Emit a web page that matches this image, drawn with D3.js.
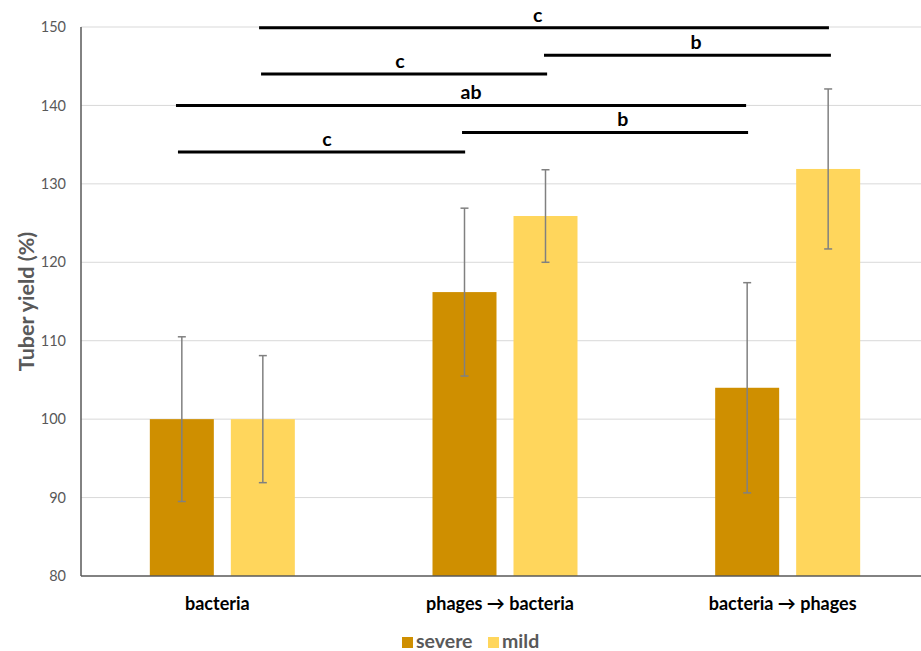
<!DOCTYPE html>
<html>
<head>
<meta charset="utf-8">
<script src="https://cdn.jsdelivr.net/npm/d3@7"></script>
<style>
  html, body { margin: 0; padding: 0; background: #fff; }
  svg { display: block; font-family: Lato, "Open Sans", sans-serif; }
</style>
</head>
<body>
<svg id="chart" width="921" height="651"></svg>
<script>
// ---- data ----
const categories = ["bacteria", "phages \u2192 bacteria", "bacteria \u2192 phages"];
const seriesNames = ["severe", "mild"];
const severeValues = [100, 116.2, 104];
const mildValues = [100, 125.9, 131.9];
const severeErrors = [10.5, 10.7, 13.4];
const mildErrors = [8.1, 5.9, 10.2];
const yTicks = [80, 90, 100, 110, 120, 130, 140, 150];
const yTitle = "Tuber yield (%)";
// significance brackets: y value, start / end on the category axis (0..3), label and its position
const bracketY = [149.9, 146.4, 144.0, 140.0, 136.55, 134.06];
const bracketStart = [0.630, 1.638, 0.637, 0.336, 1.348, 0.343];
const bracketEnd = [2.646, 2.653, 1.649, 2.353, 2.360, 1.359];
const bracketLabels = ["c", "b", "c", "ab", "b", "c"];
const bracketLabelPos = [1.616, 2.176, 1.128, 1.380, 1.917, 0.870];

const colors = { severe: "#CF8F00", mild: "#FFD65C" };

// ---- layout ----
const svg = d3.select("#chart");
const mLeft = 81, mRight = 929, mTop = 27, mBottom = 576;

const x = d3.scaleBand().domain(categories).range([mLeft, mRight]).padding(0);
const xInner = d3.scaleBand().domain(seriesNames)
  .range([x.bandwidth() / 2 - 72.5, x.bandwidth() / 2 + 72.5]).paddingInner(0.2099);
const y = d3.scaleLinear().domain([80, 150]).range([mBottom, mTop]);
const xPos = d3.scaleLinear().domain([0, 3]).range([mLeft, mRight]);

// gridlines
svg.append("g").selectAll("line").data(yTicks.filter(t => t > 80)).join("line")
  .attr("x1", mLeft).attr("x2", mRight)
  .attr("y1", d => y(d)).attr("y2", d => y(d))
  .attr("stroke", "#d9d9d9").attr("stroke-width", 1);

// y tick labels via axis
const yAxis = svg.append("g").attr("transform", `translate(${mLeft},0)`)
  .call(d3.axisLeft(y).tickValues(yTicks).tickSize(0).tickPadding(15));
yAxis.select(".domain").remove();
yAxis.selectAll("text").attr("fill", "#595959").attr("font-size", 14.5)
  .attr("font-family", "Lato, sans-serif");

// bars
const rows = categories.map((c, i) => ({
  cat: c,
  items: [
    { s: "severe", v: severeValues[i], e: severeErrors[i] },
    { s: "mild", v: mildValues[i], e: mildErrors[i] }
  ]
}));

const groups = svg.append("g").selectAll("g").data(rows).join("g")
  .attr("transform", d => `translate(${x(d.cat)},0)`);

groups.selectAll("rect").data(d => d.items).join("rect")
  .attr("x", d => xInner(d.s)).attr("width", xInner.bandwidth())
  .attr("y", d => y(d.v)).attr("height", d => y(80) - y(d.v))
  .attr("fill", d => colors[d.s]);

// error bars
const eb = groups.selectAll("g.err").data(d => d.items).join("g").attr("class", "err");
const cx = d => xInner(d.s) + xInner.bandwidth() / 2;
eb.append("line")
  .attr("x1", cx).attr("x2", cx)
  .attr("y1", d => y(d.v + d.e)).attr("y2", d => y(d.v - d.e))
  .attr("stroke", "#808080").attr("stroke-width", 1.5);
[1, -1].forEach(sign => {
  eb.append("line")
    .attr("x1", d => cx(d) - 4).attr("x2", d => cx(d) + 4)
    .attr("y1", d => y(d.v + sign * d.e)).attr("y2", d => y(d.v + sign * d.e))
    .attr("stroke", "#808080").attr("stroke-width", 1.5);
});

// axes lines
svg.append("line").attr("x1", mLeft).attr("x2", mLeft).attr("y1", mTop).attr("y2", mBottom)
  .attr("stroke", "#595959").attr("stroke-width", 1.5);
svg.append("line").attr("x1", mLeft).attr("x2", mRight).attr("y1", mBottom).attr("y2", mBottom)
  .attr("stroke", "#595959").attr("stroke-width", 1.5);

// category labels
const xAxis = svg.append("g").attr("transform", `translate(0,${mBottom})`)
  .call(d3.axisBottom(x).tickSize(0).tickPadding(21));
xAxis.select(".domain").remove();
xAxis.selectAll("text").attr("fill", "#000").attr("font-size", 18)
  .attr("font-weight", "bold").attr("font-family", "Lato, sans-serif")
  .attr("dx", -5);

// y title
svg.append("text")
  .attr("transform", `translate(34,${(mTop + mBottom) / 2}) rotate(-90)`)
  .attr("text-anchor", "middle").attr("fill", "#595959")
  .attr("font-size", 21.5).attr("font-weight", "bold")
  .text(yTitle);

// significance brackets
const br = bracketY.map((v, i) => ({ v, s: bracketStart[i], e: bracketEnd[i], l: bracketLabels[i], lp: bracketLabelPos[i] }));
const bg = svg.append("g");
bg.selectAll("line").data(br).join("line")
  .attr("x1", d => xPos(d.s)).attr("x2", d => xPos(d.e))
  .attr("y1", d => y(d.v)).attr("y2", d => y(d.v))
  .attr("stroke", "#000").attr("stroke-width", 3);
bg.selectAll("text").data(br).join("text")
  .attr("x", d => xPos(d.lp)).attr("y", d => y(d.v) - 6)
  .attr("text-anchor", "middle").attr("font-size", 19.5).attr("font-weight", "bold")
  .attr("fill", "#000").text(d => d.l);

// legend
const legendX = [402, 488];
const lg = svg.append("g").selectAll("g").data(seriesNames).join("g")
  .attr("transform", (d, i) => `translate(${legendX[i]},637)`);
lg.append("rect").attr("width", 11).attr("height", 11).attr("fill", d => colors[d]);
lg.append("text").attr("x", 14).attr("y", 11).attr("fill", "#595959")
  .attr("font-size", 19.5).attr("font-weight", "bold").text(d => d);
</script>
</body>
</html>
